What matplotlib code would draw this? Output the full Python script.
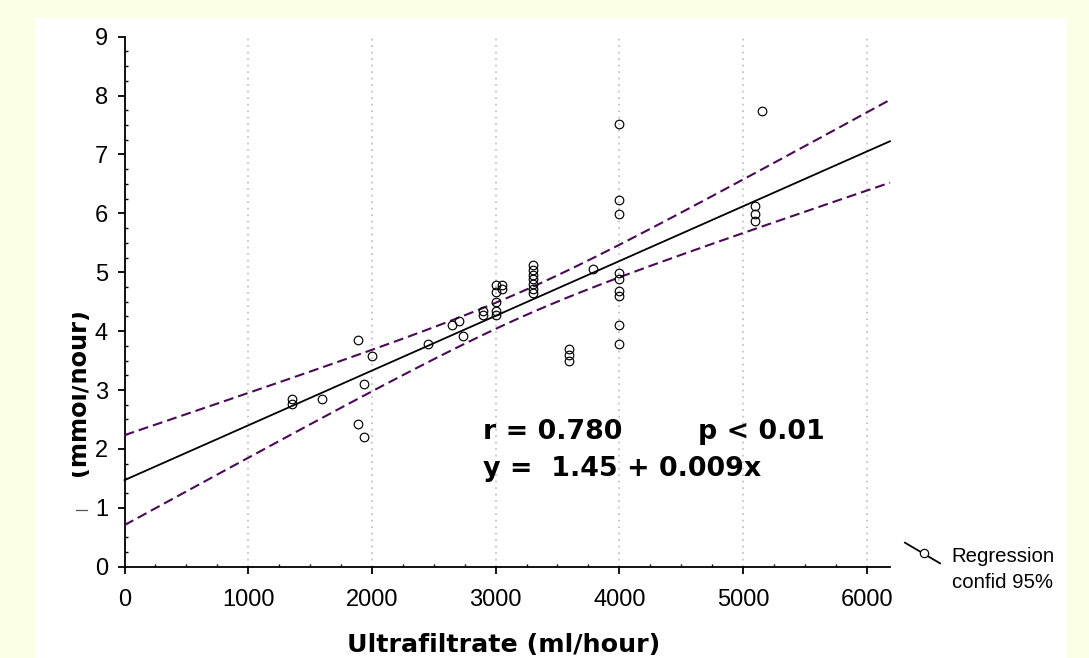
import numpy as np
import matplotlib
matplotlib.use("Agg")
import matplotlib.pyplot as plt
from matplotlib.lines import Line2D
from matplotlib.patches import Rectangle
from matplotlib.ticker import MultipleLocator

plt.rcParams['font.family'] = ['Liberation Sans', 'DejaVu Sans']

# ---------------- data ----------------
ultrafiltrate = [1350, 1350, 1600, 1890, 1890, 1940, 1940, 2000, 2450, 2650, 2700, 2740,
                 2900, 2900,
                 3000, 3000, 3000, 3000, 3000, 3050, 3050,
                 3300, 3300, 3300, 3300, 3300, 3300, 3300,
                 3590, 3590, 3590, 3790,
                 4000, 4000, 4000, 4000, 4000, 4000, 4000, 4000, 4000,
                 5100, 5100, 5100, 5150]
removal = [2.85, 2.77, 2.85, 3.85, 2.43, 3.11, 2.20, 3.57, 3.79, 4.11, 4.18, 3.92,
           4.34, 4.27,
           4.79, 4.66, 4.50, 4.34, 4.27, 4.79, 4.72,
           5.12, 5.04, 4.96, 4.88, 4.80, 4.72, 4.65,
           3.70, 3.60, 3.50, 5.05,
           7.51, 6.22, 5.99, 4.99, 4.88, 4.69, 4.60, 4.11, 3.79,
           6.12, 5.99, 5.87, 7.74]

REG_INTERCEPT = 1.47      # drawn regression line
REG_SLOPE = 0.00093
T_CRIT = 2.017            # t(0.975, df=43)

x_ticks = [0, 1000, 2000, 3000, 4000, 5000, 6000]
y_ticks = [0, 1, 2, 3, 4, 5, 6, 7, 8, 9]
X_MAX = 6188
Y_MAX = 9

annot_r = "r = 0.780"
annot_p = "p < 0.01"
annot_eq = "y =  1.45 + 0.009x"
x_label = "Ultrafiltrate (ml/hour)"
y_label = "(mmol/hour)"
legend_lines = ["Regression", "confid 95%"]

# ---------------- figure ----------------
W, H = 1089, 658
fig = plt.figure(figsize=(W / 100, H / 100), dpi=100, facecolor='#FAFFE6')

def fx(px):
    return px / W

def fy(py):
    return 1 - py / H

# white panel
fig.add_artist(Rectangle((fx(35), 0), fx(1067) - fx(35), fy(17.5), transform=fig.transFigure,
                         facecolor='white', edgecolor='none', zorder=0))

ax = fig.add_axes([fx(124.5), fy(566.7), fx(890) - fx(124.5), fy(36.7) - fy(566.7)])
ax.set_facecolor('white')
ax.set_xlim(0, X_MAX)
ax.set_ylim(0, Y_MAX)

for s in ['top', 'right']:
    ax.spines[s].set_visible(False)
for s in ['left', 'bottom']:
    ax.spines[s].set_linewidth(1.3)
    ax.spines[s].set_color('black')

ax.set_xticks(x_ticks)
ax.set_yticks(y_ticks)
ax.xaxis.set_minor_locator(MultipleLocator(250))
ax.yaxis.set_minor_locator(MultipleLocator(0.25))
ax.tick_params(which='major', direction='out', length=5.3, width=1.3, labelsize=17, color='black')
ax.tick_params(axis='x', which='major', pad=10.5)
ax.tick_params(axis='y', which='major', pad=6.5)
ax.tick_params(which='minor', direction='in', length=2.0, width=1.0, color='black')

ax.grid(axis='x', which='major', color='#C4C4C4', linestyle=(0, (1, 2.6)), linewidth=1.3)
ax.set_axisbelow(True)

# regression + confidence band
xa = np.asarray(ultrafiltrate, dtype=float)
ya = np.asarray(removal, dtype=float)
n = len(xa)
xbar = xa.mean()
sxx = np.sum((xa - xbar) ** 2)
b_ls, a_ls = np.polyfit(xa, ya, 1)
resid = ya - (a_ls + b_ls * xa)
s_err = np.sqrt(np.sum(resid ** 2) / (n - 2))

xs = np.linspace(0, X_MAX, 300)
fit = REG_INTERCEPT + REG_SLOPE * xs
half = T_CRIT * s_err * np.sqrt(1.0 / n + (xs - xbar) ** 2 / sxx)

purple = '#4B0A55'
ax.plot(xs, fit, color='black', lw=1.3, zorder=3, clip_on=False)
ax.plot(xs, fit + half, color=purple, lw=1.5, dashes=(4.8, 2.4), zorder=3, clip_on=False)
ax.plot(xs, fit - half, color=purple, lw=1.5, dashes=(4.8, 2.4), zorder=3, clip_on=False)

ax.plot(ultrafiltrate, removal, linestyle='none', marker='o', ms=6.2, mfc='none',
        mec='black', mew=0.85, zorder=4)

# annotations
bold = dict(family='DejaVu Sans', weight='bold', fontsize=19.4, color='black')
ax.text(2900, 2.17, annot_r, ha='left', va='baseline', **bold)
ax.text(4636, 2.17, annot_p, ha='left', va='baseline', **bold)
ax.text(2900, 1.54, annot_eq, ha='left', va='baseline', **bold)

# x label
fig.text(fx(503.5), fy(651.7), x_label, ha='center', va='baseline',
         family='DejaVu Sans', weight='bold', fontsize=18.3)

# y label (its upper part is hidden in the original)
fig.text(fx(84.5), fy(392.5), y_label, rotation=90, rotation_mode='anchor',
         ha='center', va='baseline', family='DejaVu Sans', weight='bold', fontsize=17.3,
         zorder=3)
fig.add_artist(Rectangle((fx(50), fy(490)), fx(71.5) - fx(50), fy(295) - fy(490),
                         transform=fig.transFigure, facecolor='white', edgecolor='none',
                         zorder=5))
fig.add_artist(Line2D([fx(76), fx(87)], [fy(510), fy(510)], transform=fig.transFigure,
                      color='#555555', lw=0.9))

# legend (manual)
fig.add_artist(Line2D([fx(905), fx(940)], [fy(542.7), fy(563.3)], transform=fig.transFigure,
                      color='black', lw=1.3))
fig.add_artist(Line2D([fx(924)], [fy(553.3)], transform=fig.transFigure, linestyle='none',
                      marker='o', ms=6.0, mfc='white', mec='black', mew=0.85))
fig.text(fx(951.7), fy(561.7), legend_lines[0], ha='left', va='baseline', fontsize=14.7)
fig.text(fx(951.7), fy(588.3), legend_lines[1], ha='left', va='baseline', fontsize=14.7)

fig.savefig('out.png', dpi=100, facecolor=fig.get_facecolor())
